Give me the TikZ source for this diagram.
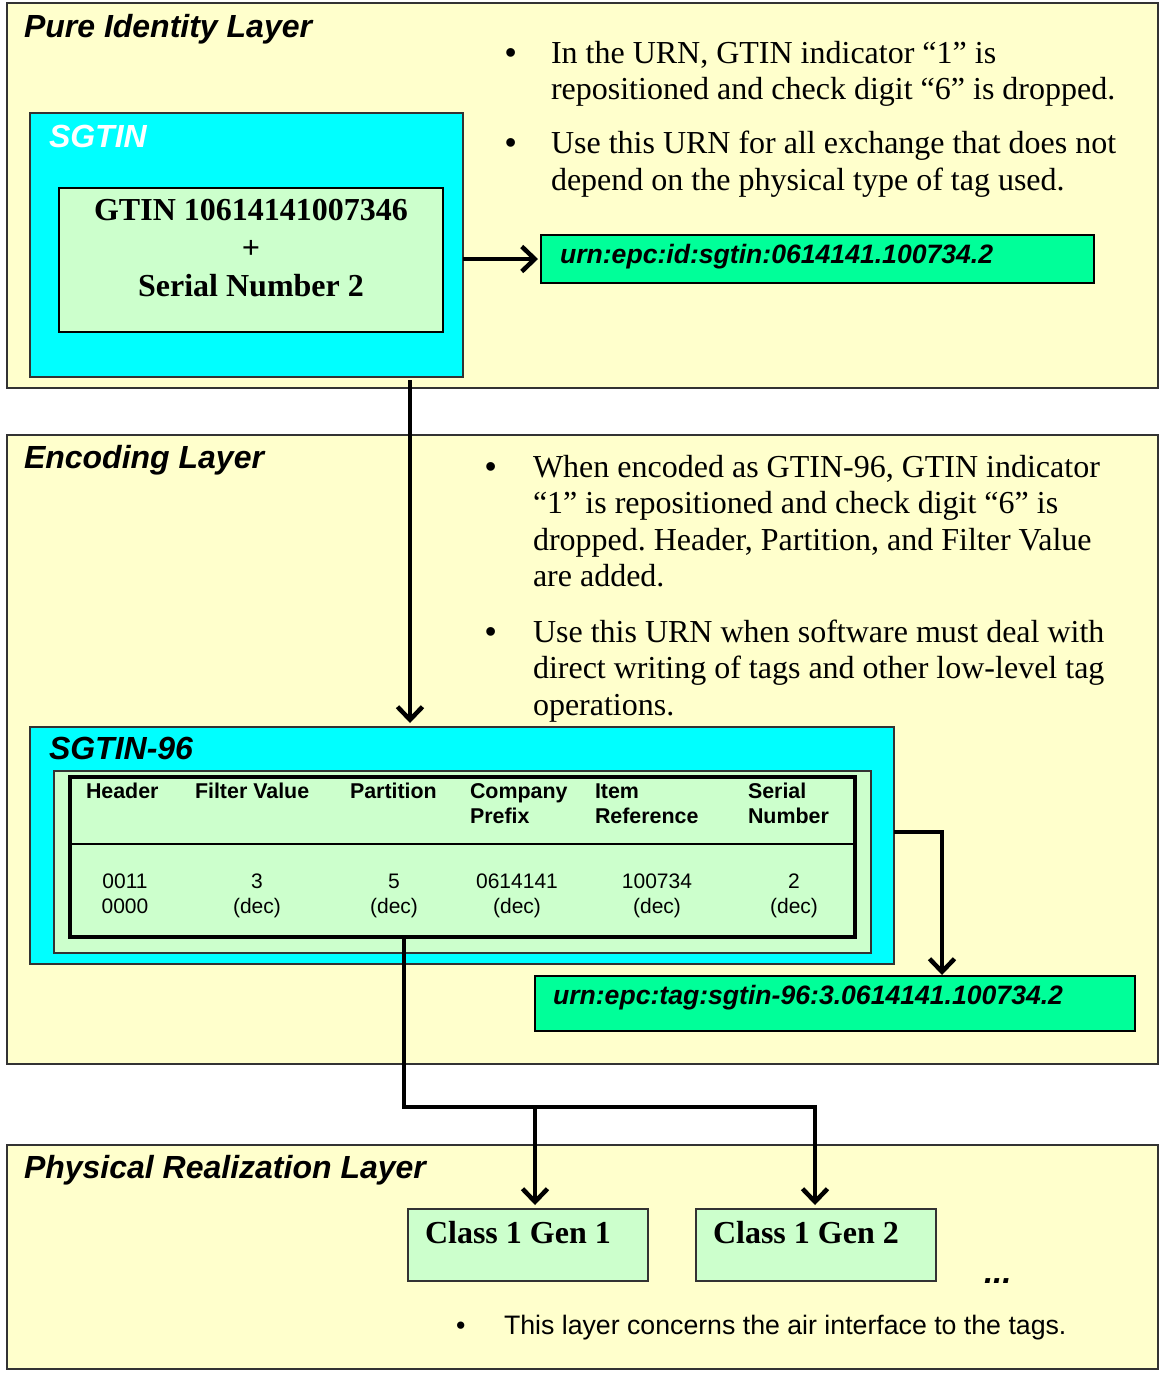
\documentclass[tikz,border=0pt]{standalone}
\usepackage{fontspec}
\setmainfont{Liberation Serif}
\setsansfont{Liberation Sans}
\usetikzlibrary{arrows.meta}
\definecolor{layerfill}{HTML}{FFFFCC}
\definecolor{cyanfill}{HTML}{00FFFF}
\definecolor{palegreen}{HTML}{CCFFCC}
\definecolor{urngreen}{HTML}{00FF99}
\definecolor{edgegray}{HTML}{333333}
\newcommand\fsz[1]{\fontsize{#1}{#1}\selectfont}
\frenchspacing
\begin{document}
\begin{tikzpicture}[x=1pt,y=-1pt,
  box/.style={anchor=north west, inner sep=0pt, outer sep=0pt},
  layer/.style={box, draw=edgegray, line width=1.5pt, fill=layerfill},
  cyanbox/.style={box, draw=edgegray, line width=1.5pt, fill=cyanfill},
  greenbox/.style={box, draw=edgegray, line width=1.5pt, fill=palegreen},
  urnbox/.style={box, draw=black, line width=2pt, fill=urngreen},
  txt/.style={anchor=base west, inner sep=0pt, outer sep=0pt},
  ctxt/.style={anchor=base, inner sep=0pt, outer sep=0pt},
  layertitle/.style={txt, font=\sffamily\bfseries\itshape\fsz{32}},
  serif/.style={txt, font=\rmfamily\fsz{32}},
  bul/.style={txt, font=\sffamily\fsz{32}},
  boldserif/.style={font=\rmfamily\bfseries\fsz{32}},
  urntext/.style={txt, font=\sffamily\bfseries\itshape\fsz{26.6}},
  colhead/.style={txt, font=\sffamily\bfseries\fsz{21.4}},
  colval/.style={ctxt, font=\sffamily\fsz{21}},
  arr/.style={line width=4.5pt, -{Straight Barb[length=13pt,width=25pt]}},
  conn/.style={line width=4.5pt}
]
\useasboundingbox[fill=white] (0,0) rectangle (1159,1374);

% ---------- Layer 1 ----------
\node[layer, minimum width=1151pt, minimum height=385pt] (L1) at (7,3) {};
\node[layertitle] (L1t) at (24,37) {Pure Identity Layer};
\node[cyanbox, minimum width=433pt, minimum height=264pt] (sgtin) at (30,113) {};
\node[layertitle, text=white] (sgtint) at (49,147) {SGTIN};
\node[box, draw=black, line width=2pt, fill=palegreen, minimum width=384pt, minimum height=144pt] (gtin) at (59,188) {};
\node[ctxt, boldserif] (gtin1) at (251,220) {GTIN 10614141007346};
\node[ctxt, boldserif] (gtin2) at (251,258) {+};
\node[ctxt, boldserif] (gtin3) at (251,296) {Serial Number 2};

\node[bul] (b1) at (505,63) {\textbullet};
\node[serif] (b1a) at (551,63) {In the URN, GTIN indicator “1” is};
\node[serif] (b1b) at (551,99) {repositioned and check digit “6” is dropped.};
\node[bul] (b2) at (505,153) {\textbullet};
\node[serif] (b2a) at (551,153) {Use this URN for all exchange that does not};
\node[serif] (b2b) at (551,190) {depend on the physical type of tag used.};

\node[urnbox, minimum width=553pt, minimum height=48pt] (urn1) at (541,235) {};
\node[urntext] (urn1t) at (560,263) {urn:epc:id:sgtin:0614141.100734.2};

% ---------- Layer 2 ----------
\node[layer, minimum width=1151pt, minimum height=629pt] (L2) at (7,435) {};
\node[layertitle] (L2t) at (24,468) {Encoding Layer};

\node[bul] (b3) at (485,477) {\textbullet};
\node[serif] (b3a) at (533,477) {When encoded as GTIN-96, GTIN indicator};
\node[serif] (b3b) at (533,513) {“1” is repositioned and check digit “6” is};
\node[serif] (b3c) at (533,550) {dropped. Header, Partition, and Filter Value};
\node[serif] (b3d) at (533,586) {are added.};
\node[bul] (b4) at (485,642) {\textbullet};
\node[serif] (b4a) at (533,642) {Use this URN when software must deal with};
\node[serif] (b4b) at (533,678) {direct writing of tags and other low-level tag};
\node[serif] (b4c) at (533,715) {operations.};

\node[cyanbox, minimum width=864pt, minimum height=237pt] (s96) at (30,727) {};
\node[layertitle] (s96t) at (49,759) {SGTIN-96};
\node[box, draw=edgegray, line width=1.2pt, fill=palegreen, minimum width=817pt, minimum height=182pt] (s96in) at (54,771) {};
\node[box, draw=black, line width=3.5pt, minimum width=785pt, minimum height=160pt] (tab) at (70,777) {};
\draw[line width=2pt] ([yshift=-67pt]tab.north west) -- ([yshift=-67pt,xshift=2pt]tab.north east);

\node[colhead] (h1) at (86,798) {Header};
\node[colhead] (h2) at (195,798) {Filter Value};
\node[colhead] (h3) at (350,798) {Partition};
\node[colhead] (h4) at (470,798) {Company};
\node[colhead] (h4b) at (470,823) {Prefix};
\node[colhead] (h5) at (595,798) {Item};
\node[colhead] (h5b) at (595,823) {Reference};
\node[colhead] (h6) at (748,798) {Serial};
\node[colhead] (h6b) at (748,823) {Number};

\node[colval] (v1) at (125,888) {0011};
\node[colval] (v1b) at (125,913) {0000};
\node[colval] (v2) at (257,888) {3};
\node[colval] (v2b) at (257,913) {(dec)};
\node[colval] (v3) at (394,888) {5};
\node[colval] (v3b) at (394,913) {(dec)};
\node[colval] (v4) at (517,888) {0614141};
\node[colval] (v4b) at (517,913) {(dec)};
\node[colval] (v5) at (657,888) {100734};
\node[colval] (v5b) at (657,913) {(dec)};
\node[colval] (v6) at (794,888) {2};
\node[colval] (v6b) at (794,913) {(dec)};

\node[urnbox, minimum width=600pt, minimum height=55pt] (urn2) at (535,976) {};
\node[urntext] (urn2t) at (553,1004) {urn:epc:tag:sgtin-96:3.0614141.100734.2};

% ---------- Layer 3 ----------
\node[layer, minimum width=1151pt, minimum height=224pt] (L3) at (7,1145) {};
\node[layertitle] (L3t) at (24,1178) {Physical Realization Layer};
\node[greenbox, minimum width=240pt, minimum height=72pt] (c1) at (408,1209) {};
\node[txt, boldserif] (c1t) at (425,1243) {Class 1 Gen 1};
\node[greenbox, minimum width=240pt, minimum height=72pt] (c2) at (696,1209) {};
\node[txt, boldserif] (c2t) at (713,1243) {Class 1 Gen 2};
\node[txt, font=\sffamily\bfseries\itshape\fsz{33}] (dots) at (984,1283) {...};
\node[txt, font=\sffamily\fsz{26.7}] (b5) at (456,1334) {\textbullet};
\node[txt, font=\sffamily\fsz{26.7}] (b5a) at (504,1334) {This layer concerns the air interface to the tags.};

% ---------- Connectors ----------
\draw[arr, shorten >=3pt] (sgtin.east |- urn1.west) -- (urn1.west);
\coordinate (a2x) at (410,0);
\draw[arr, shorten >=4pt] ([yshift=-3pt]sgtin.south -| a2x) -- (s96.north -| a2x);
\coordinate (a3) at (942,832);
\draw[arr, line join=miter, shorten >=1pt] (a3 -| s96.east) -- (a3) -- (a3 |- urn2.north);
\coordinate (j1) at (404,1107);
\coordinate (j2) at (535,1107);
\coordinate (j3) at (815,1107);
\draw[conn, line join=miter] ([yshift=-2pt]tab.south -| j1) -- (j1) -- ([xshift=2.25pt]j3);
\draw[arr, shorten >=4pt] (j2) -- (j2 |- c1.north);
\draw[arr, shorten >=4pt] ([yshift=2.25pt]j3) -- (j3 |- c2.north);
\end{tikzpicture}
\end{document}
